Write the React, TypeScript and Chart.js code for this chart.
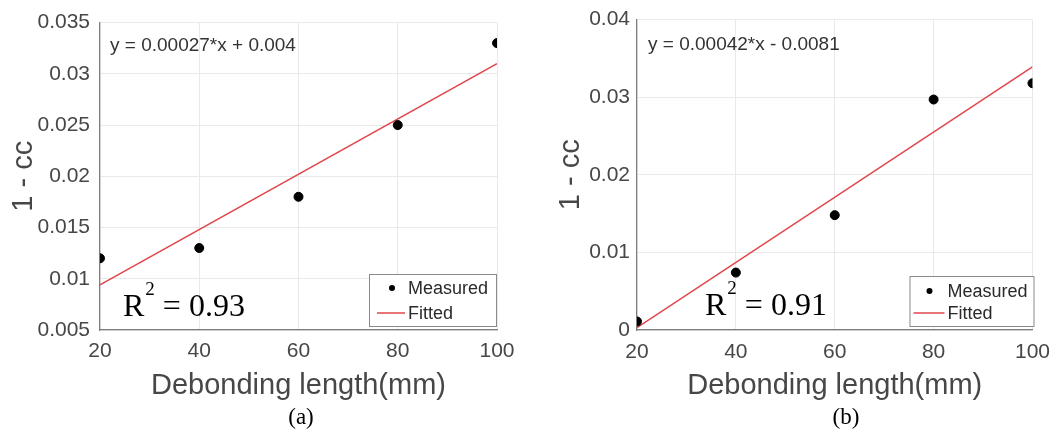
import React, { useEffect, useRef } from "react";
import { Chart, registerables } from "chart.js";

Chart.register(...registerables);

// ---------- data ----------
const debondingLength = [20, 40, 60, 80, 100];
const xTicks = [20, 40, 60, 80, 100];

const measuredA = [0.012, 0.013, 0.018, 0.025, 0.033];
const fitXA = [20, 100];
const fittedA = [0.0094, 0.031];
const yTicksA = [0.005, 0.01, 0.015, 0.02, 0.025, 0.03, 0.035];
const yTickLabelsA = ["0.005", "0.01", "0.015", "0.02", "0.025", "0.03", "0.035"];
const equationA = "y = 0.00027*x + 0.004";
const r2A = "0.93";

const measuredB = [0.0011, 0.0074, 0.0148, 0.0297, 0.0318];
const fitXB = [20, 100];
const fittedB = [0.0003, 0.0339];
const yTicksB = [0, 0.01, 0.02, 0.03, 0.04];
const yTickLabelsB = ["0", "0.01", "0.02", "0.03", "0.04"];
const equationB = "y = 0.00042*x - 0.0081";
const r2B = "0.91";

const seriesLabels = ["Measured", "Fitted"];
const xTitle = "Debonding length(mm)";
const yTitle = "1 - cc";
const captions = ["(a)", "(b)"];

// ---------- styles ----------
const SANS = '"Liberation Sans", Arial, sans-serif';
const SERIF = '"Liberation Serif", "Times New Roman", serif';
const TEXT = "#474747";
const GRID = "#e9e9e9";
const AXIS = "#7d7d7d";
const FIT_COLOR = "#e0474c";

const boxLegendPlugin = {
  id: "boxLegend",
  afterDraw(chart: any, _args: any, opts: any) {
    const { ctx, chartArea } = chart;
    const right = chartArea.right + opts.dx;
    const bottom = chartArea.bottom + opts.dy;
    const left = right - opts.width;
    const top = bottom - opts.height;
    ctx.save();
    ctx.fillStyle = "#ffffff";
    ctx.fillRect(left, top, opts.width, opts.height);
    ctx.strokeStyle = "#8a8a8a";
    ctx.lineWidth = 1;
    ctx.strokeRect(left + 0.5, top + 0.5, opts.width - 1, opts.height - 1);
    ctx.font = `18px ${SANS}`;
    ctx.textBaseline = "middle";
    ctx.textAlign = "left";
    chart.data.datasets.forEach((ds: any, i: number) => {
      const cy = top + opts.rows[i];
      if (ds.showLine) {
        ctx.strokeStyle = ds.borderColor;
        ctx.lineWidth = 1.5;
        ctx.beginPath();
        ctx.moveTo(left + opts.lineX0, cy);
        ctx.lineTo(left + opts.lineX1, cy);
        ctx.stroke();
      } else {
        ctx.fillStyle = ds.backgroundColor;
        ctx.beginPath();
        ctx.arc(left + opts.dotX, cy, 3, 0, Math.PI * 2);
        ctx.fill();
      }
      ctx.fillStyle = "#2a2a2a";
      ctx.fillText(ds.label, left + opts.textX, cy + 1);
    });
    ctx.restore();
  },
};

const notesPlugin = {
  id: "notes",
  afterDraw(chart: any, _args: any, opts: any) {
    const { ctx, chartArea } = chart;
    ctx.save();
    // equation
    ctx.font = `19px ${SANS}`;
    ctx.fillStyle = "#333333";
    ctx.textBaseline = "middle";
    ctx.textAlign = "left";
    ctx.fillText(opts.equation, chartArea.left + opts.eqDx, chartArea.top + opts.eqDy);
    // R^2
    const x0 = chartArea.left + opts.rDx;
    const base = chartArea.bottom + opts.rDy;
    ctx.fillStyle = "#000000";
    ctx.textBaseline = "alphabetic";
    ctx.font = `32px ${SERIF}`;
    ctx.fillText("R", x0, base);
    const rw = ctx.measureText("R").width;
    ctx.font = `19px ${SERIF}`;
    ctx.fillText("2", x0 + rw + 1, base - 21);
    const sw = ctx.measureText("2").width;
    ctx.font = `32px ${SERIF}`;
    ctx.fillText(" = " + opts.r2, x0 + rw + 1 + sw, base);
    ctx.restore();
  },
};

type PanelProps = {
  left: number;
  measured: number[];
  fitX: number[];
  fitted: number[];
  yTicks: number[];
  yTickLabels: string[];
  yMin: number;
  yMax: number;
  equation: string;
  r2: string;
  yAxisW: number;
  padRight: number;
  padTop: number;
  yTitlePad: number;
  yTickPad: number;
  xTickPad: number;
  legend: any;
  notes: any;
};

const CANVAS_W = 530;
const CANVAS_H = 410;

function Panel(p: PanelProps) {
  const ref = useRef<HTMLCanvasElement | null>(null);
  useEffect(() => {
    if (!ref.current) return;
    const chart = new Chart(ref.current, {
      type: "scatter",
      data: {
        datasets: [
          {
            label: seriesLabels[0],
            data: debondingLength.map((x, i) => ({ x, y: p.measured[i] })),
            backgroundColor: "#000000",
            borderColor: "#000000",
            pointRadius: 4.5,
            pointHoverRadius: 4.5,
            showLine: false,
          },
          {
            label: seriesLabels[1],
            data: p.fitX.map((x, i) => ({ x, y: p.fitted[i] })),
            backgroundColor: FIT_COLOR,
            borderColor: FIT_COLOR,
            borderWidth: 1.5,
            pointRadius: 0,
            pointHoverRadius: 0,
            showLine: true,
          },
        ],
      },
      options: {
        responsive: false,
        animation: false,
        layout: { padding: { left: 0, right: p.padRight, top: p.padTop, bottom: 0 } },
        scales: {
          x: {
            type: "linear",
            min: 20,
            max: 100,
            afterBuildTicks: (s: any) => {
              s.ticks = xTicks.map((v) => ({ value: v }));
            },
            afterFit: (s: any) => {
              s.height = CANVAS_H - 330;
            },
            ticks: {
              font: { family: SANS, size: 21 },
              color: TEXT,
              padding: p.xTickPad,
              maxRotation: 0,
              autoSkip: false,
              callback: (v: any) => String(v),
            },
            grid: { color: GRID, drawTicks: false, lineWidth: 1 },
            border: { color: AXIS, width: 1.2 },
            title: {
              display: true,
              text: xTitle,
              font: { family: SANS, size: 29 },
              color: TEXT,
              padding: { top: 0, bottom: 6.6 },
            },
          },
          y: {
            type: "linear",
            min: p.yMin,
            max: p.yMax,
            afterBuildTicks: (s: any) => {
              s.ticks = p.yTicks.map((v) => ({ value: v }));
            },
            afterFit: (s: any) => {
              s.width = p.yAxisW;
            },
            ticks: {
              font: { family: SANS, size: 21 },
              color: TEXT,
              padding: p.yTickPad,
              autoSkip: false,
              callback: (v: any) => {
                let best = 0;
                p.yTicks.forEach((t, i) => {
                  if (Math.abs(t - v) < Math.abs(p.yTicks[best] - v)) best = i;
                });
                return p.yTickLabels[best];
              },
            },
            grid: { color: GRID, drawTicks: false, lineWidth: 1 },
            border: { color: AXIS, width: 1.2 },
            title: {
              display: true,
              text: yTitle,
              font: { family: SANS, size: 29 },
              color: TEXT,
              padding: { top: p.yTitlePad, bottom: 0 },
            },
          },
        },
        plugins: {
          legend: { display: false },
          tooltip: { enabled: false },
          boxLegend: p.legend,
          notes: { ...p.notes, equation: p.equation, r2: p.r2 },
        } as any,
      },
      plugins: [boxLegendPlugin, notesPlugin],
    } as any);
    return () => chart.destroy();
  }, []);
  return (
    <canvas
      ref={ref}
      width={CANVAS_W}
      height={CANVAS_H}
      style={{ position: "absolute", left: p.left, top: 0, width: CANVAS_W, height: CANVAS_H, display: "block" }}
    />
  );
}

export default function App() {
  return (
    <div style={{ position: "absolute", left: 0, top: 0, width: 1060, height: 432, background: "#ffffff", overflow: "hidden" }}>
      <Panel
        left={0}
        measured={measuredA}
        fitX={fitXA}
        fitted={fittedA}
        yTicks={yTicksA}
        yTickLabels={yTickLabelsA}
        yMin={0.005}
        yMax={0.035}
        equation={equationA}
        r2={r2A}
        yAxisW={100}
        padRight={33}
        padTop={17}
        yTitlePad={6.6}
        yTickPad={10}
        xTickPad={9}
        legend={{ dx: 0, dy: -3, width: 128, height: 53, rows: [14, 39], dotX: 23, lineX0: 8, lineX1: 36, textX: 39 }}
        notes={{ eqDx: 10, eqDy: 23, rDx: 23, rDy: -14 }}
      />
      <Panel
        left={530}
        measured={measuredB}
        fitX={fitXB}
        fitted={fittedB}
        yTicks={yTicksB}
        yTickLabels={yTickLabelsB}
        yMin={0}
        yMax={0.04}
        equation={equationB}
        r2={r2B}
        yAxisW={107}
        padRight={25}
        padTop={16}
        yTitlePad={23.6}
        yTickPad={7}
        xTickPad={10}
        legend={{ dx: 2, dy: -3, width: 125, height: 51, rows: [15, 37], dotX: 20, lineX0: 4, lineX1: 35, textX: 38 }}
        notes={{ eqDx: 11, eqDy: 25, rDx: 68, rDy: -15 }}
      />
      <div style={{ position: "absolute", left: 251, top: 404, width: 100, textAlign: "center", font: `23px ${SERIF}`, lineHeight: "26px", color: "#000" }}>
        {captions[0]}
      </div>
      <div style={{ position: "absolute", left: 796, top: 404, width: 100, textAlign: "center", font: `23px ${SERIF}`, lineHeight: "26px", color: "#000" }}>
        {captions[1]}
      </div>
    </div>
  );
}
